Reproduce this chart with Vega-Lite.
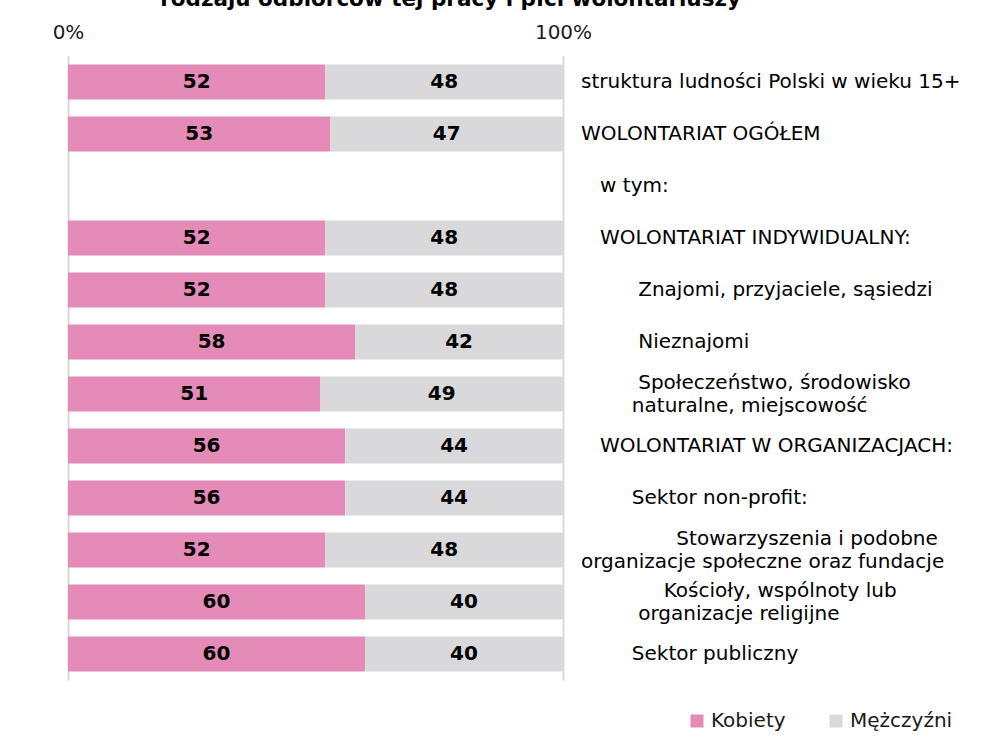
{
  "$schema": "https://vega.github.io/schema/vega-lite/v6.json",
  "autosize": {"type": "none"},
  "width": 495,
  "height": 624,
  "padding": {"left": 68, "top": 56, "right": 431, "bottom": 62},
  "background": "white",
  "title": {
    "text": "rodzaju odbiorców tej pracy i płci wolontariuszy",
    "font": "DejaVu Sans",
    "fontSize": 21.5,
    "fontWeight": "bold",
    "color": "#000000",
    "anchor": "start",
    "dx": 108,
    "offset": 12
  },
  "config": {
    "view": {"stroke": null},
    "font": "DejaVu Sans"
  },
  "datasets": {
    "bars": [
      {"cat": "struktura", "sex": "Kobiety", "v": 52},
      {"cat": "struktura", "sex": "Mężczyźni", "v": 48},
      {"cat": "ogolem", "sex": "Kobiety", "v": 53},
      {"cat": "ogolem", "sex": "Mężczyźni", "v": 47},
      {"cat": "indywidualny", "sex": "Kobiety", "v": 52},
      {"cat": "indywidualny", "sex": "Mężczyźni", "v": 48},
      {"cat": "znajomi", "sex": "Kobiety", "v": 52},
      {"cat": "znajomi", "sex": "Mężczyźni", "v": 48},
      {"cat": "nieznajomi", "sex": "Kobiety", "v": 58},
      {"cat": "nieznajomi", "sex": "Mężczyźni", "v": 42},
      {"cat": "spoleczenstwo", "sex": "Kobiety", "v": 51},
      {"cat": "spoleczenstwo", "sex": "Mężczyźni", "v": 49},
      {"cat": "organizacje", "sex": "Kobiety", "v": 56},
      {"cat": "organizacje", "sex": "Mężczyźni", "v": 44},
      {"cat": "nonprofit", "sex": "Kobiety", "v": 56},
      {"cat": "nonprofit", "sex": "Mężczyźni", "v": 44},
      {"cat": "stowarzyszenia", "sex": "Kobiety", "v": 52},
      {"cat": "stowarzyszenia", "sex": "Mężczyźni", "v": 48},
      {"cat": "koscioly", "sex": "Kobiety", "v": 60},
      {"cat": "koscioly", "sex": "Mężczyźni", "v": 40},
      {"cat": "publiczny", "sex": "Kobiety", "v": 60},
      {"cat": "publiczny", "sex": "Mężczyźni", "v": 40}
    ],
    "labels": [
      {"cat": "struktura", "label": "struktura ludności Polski w wieku 15+"},
      {"cat": "ogolem", "label": "WOLONTARIAT OGÓŁEM"},
      {"cat": "wtym", "label": "\u200b\u00a0\u00a0\u00a0w tym:"},
      {"cat": "indywidualny", "label": "\u200b\u00a0\u00a0\u00a0WOLONTARIAT INDYWIDUALNY:"},
      {"cat": "znajomi", "label": "\u200b\u00a0\u00a0\u00a0\u00a0\u00a0\u00a0\u00a0\u00a0\u00a0Znajomi, przyjaciele, sąsiedzi"},
      {"cat": "nieznajomi", "label": "\u200b\u00a0\u00a0\u00a0\u00a0\u00a0\u00a0\u00a0\u00a0\u00a0Nieznajomi"},
      {"cat": "spoleczenstwo", "label": "\u200b\u00a0\u00a0\u00a0\u00a0\u00a0\u00a0\u00a0\u00a0\u00a0Społeczeństwo, środowisko\n\u200b\u00a0\u00a0\u00a0\u00a0\u00a0\u00a0\u00a0\u00a0naturalne, miejscowość"},
      {"cat": "organizacje", "label": "\u200b\u00a0\u00a0\u00a0WOLONTARIAT W ORGANIZACJACH:"},
      {"cat": "nonprofit", "label": "\u200b\u00a0\u00a0\u00a0\u00a0\u00a0\u00a0\u00a0\u00a0Sektor non-profit:"},
      {"cat": "stowarzyszenia", "label": "\u200b\u00a0\u00a0\u00a0\u00a0\u00a0\u00a0\u00a0\u00a0\u00a0\u00a0\u00a0\u00a0\u00a0\u00a0\u00a0Stowarzyszenia i podobne\norganizacje społeczne oraz fundacje"},
      {"cat": "koscioly", "label": "\u200b\u00a0\u00a0\u00a0\u00a0\u00a0\u00a0\u00a0\u00a0\u00a0\u00a0\u00a0\u00a0\u00a0Kościoły, wspólnoty lub\n\u200b\u00a0\u00a0\u00a0\u00a0\u00a0\u00a0\u00a0\u00a0\u00a0organizacje religijne"},
      {"cat": "publiczny", "label": "\u200b\u00a0\u00a0\u00a0\u00a0\u00a0\u00a0\u00a0\u00a0Sektor publiczny"}
    ]
  },
  "encoding": {
    "y": {
      "field": "cat",
      "type": "nominal",
      "sort": null,
      "axis": null,
      "scale": {
        "domain": ["struktura", "ogolem", "wtym", "indywidualny", "znajomi", "nieznajomi", "spoleczenstwo", "organizacje", "nonprofit", "stowarzyszenia", "koscioly", "publiczny"],
        "paddingInner": 0.327,
        "paddingOuter": 0.1635
      }
    }
  },
  "layer": [
    {
      "data": {"name": "bars"},
      "mark": {"type": "bar"},
      "encoding": {
        "x": {
          "field": "v",
          "type": "quantitative",
          "aggregate": "sum",
          "stack": "zero",
          "scale": {"domain": [0, 100], "nice": false},
          "axis": {
            "orient": "top",
            "values": [0, 100],
            "format": ".0f",
            "labelExpr": "datum.value + '%'",
            "title": null,
            "domain": false,
            "ticks": false,
            "labelFlush": false,
            "labelFont": "DejaVu Sans",
            "labelFontSize": 20,
            "labelColor": "#1a1a1a",
            "labelPadding": 14,
            "grid": true,
            "gridColor": "#D9D9D9",
            "gridWidth": 2
          }
        },
        "color": {
          "field": "sex",
          "type": "nominal",
          "scale": {"domain": ["Kobiety", "Mężczyźni"], "range": ["#E48BB7", "#D9D9DB"]},
          "legend": {
            "title": null,
            "orient": "none",
            "direction": "horizontal",
            "legendX": 619,
            "legendY": 655,
            "padding": 0,
            "symbolType": "square",
            "symbolSize": 169,
            "symbolStrokeWidth": 0,
            "labelFont": "DejaVu Sans",
            "labelFontSize": 20,
            "labelColor": "#1a1a1a",
            "labelOffset": 4,
            "columnPadding": 40
          }
        }
      }
    },
    {
      "data": {"name": "bars"},
      "mark": {"type": "text", "font": "DejaVu Sans", "fontSize": 20, "fontWeight": "bold", "color": "#000000", "baseline": "middle", "align": "center"},
      "encoding": {
        "x": {
          "field": "v",
          "type": "quantitative",
          "aggregate": "sum",
          "stack": "zero",
          "bandPosition": 0.5
        },
        "detail": {"field": "sex", "type": "nominal"},
        "text": {"field": "v", "aggregate": "sum", "type": "quantitative"}
      }
    },
    {
      "data": {"name": "labels"},
      "transform": [{"filter": "indexof(datum.label, '\\n') < 0"}],
      "mark": {"type": "text", "font": "DejaVu Sans", "fontSize": 20, "color": "#000000", "align": "left", "baseline": "middle", "dx": 18},
      "encoding": {
        "x": {"datum": 100},
        "text": {"field": "label", "type": "nominal"}
      }
    },
    {
      "data": {"name": "labels"},
      "transform": [{"filter": "indexof(datum.label, '\\n') >= 0"}],
      "mark": {"type": "text", "font": "DejaVu Sans", "fontSize": 20, "color": "#000000", "align": "left", "baseline": "middle", "dx": 18, "dy": -11.5, "lineBreak": "\n", "lineHeight": 23},
      "encoding": {
        "x": {"datum": 100},
        "text": {"field": "label", "type": "nominal"}
      }
    }
  ]
}
